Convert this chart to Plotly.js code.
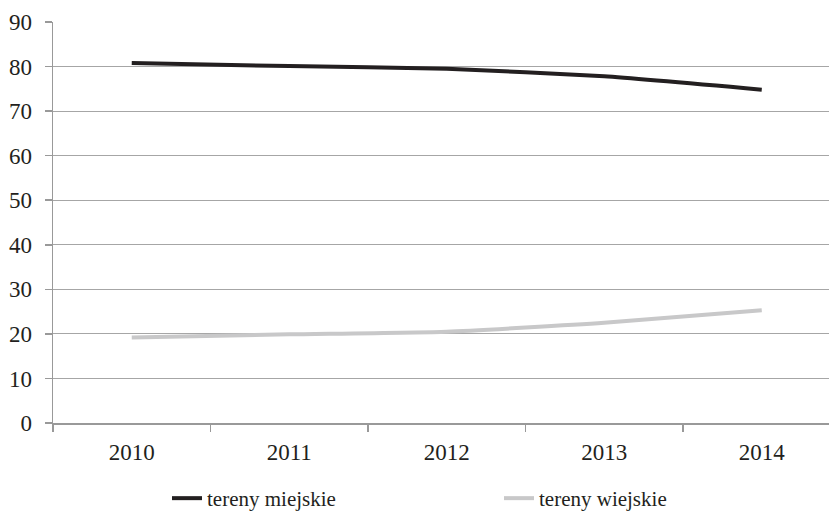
<!DOCTYPE html>
<html><head><meta charset="utf-8">
<script src="https://cdn.plot.ly/plotly-3.0.1.min.js"></script>
<style>body{margin:0;padding:0;background:#fff}#chart{width:829px;height:519px}</style>
</head><body><div id="chart"></div>
<script>
var years = ['2010','2011','2012','2013','2014'];
var miejskie = [80.8, 80.1, 79.5, 77.8, 74.8];
var wiejskie = [19.2, 19.9, 20.5, 22.5, 25.3];
var yTicks = [0,10,20,30,40,50,60,70,80,90];

var traces = [
  {x: years, y: miejskie, name: 'tereny miejskie', type: 'scatter', mode: 'lines',
   line: {color: '#231f20', width: 4, shape: 'spline', smoothing: 0.5}},
  {x: years, y: wiejskie, name: 'tereny wiejskie', type: 'scatter', mode: 'lines',
   line: {color: '#c8c8c9', width: 4, shape: 'spline', smoothing: 0.5}}
];
var fam = 'Liberation Serif';
var layout = {
  width: 829, height: 519,
  margin: {l: 53, r: 0, t: 22, b: 96},
  paper_bgcolor: '#fff', plot_bgcolor: '#fff',
  font: {family: fam, size: 23, color: '#231f20'},
  showlegend: true,
  legend: {orientation: 'h', xref: 'container', yref: 'container', x: 167/829, y: -0.016, xanchor: 'left', yanchor: 'bottom',
           entrywidth: 287, entrywidthmode: 'pixels', font: {family: fam, size: 21}},
  xaxis: {type: 'category', range: [-0.5, 4.427], showgrid: false, showline: true, linecolor: '#999', linewidth: 1.5,
          ticks: 'outside', tickson: 'boundaries', ticklen: 7, tickcolor: '#999', tickwidth: 1.5,
          ticklabelstandoff: 8, zeroline: false, tickfont: {family: fam, size: 23}},
  yaxis: {range: [0, 90], tickvals: yTicks, showgrid: true, gridcolor: '#a6a6a6', gridwidth: 1,
          showline: true, linecolor: '#999', linewidth: 1.5, ticks: 'outside', ticklen: 7, tickcolor: '#999',
          tickwidth: 1.5, ticklabelstandoff: 8, zeroline: false, tickfont: {family: fam, size: 23}}
};
Plotly.newPlot('chart', traces, layout, {displayModeBar: false, staticPlot: true});
</script></body></html>
